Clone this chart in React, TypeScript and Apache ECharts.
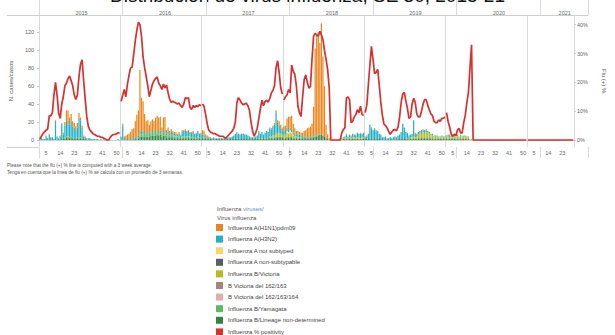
import React, { useEffect, useRef } from "react";
import * as echarts from "echarts";

const years = [2015, 2016, 2017, 2018, 2019, 2020, 2021];
const weeksInYear = [52, 52, 52, 52, 52, 52, 30];
const weekTicks = [5, 14, 23, 32, 41, 50];
const casesTicks = [0, 20, 40, 60, 80, 100, 120];
const pctTicks = [0, 10, 20, 30, 40];

// Influenza % positivity (3-week average), one row per year
const positivity = [
  [0.3,1.3,2.2,2.8,3.4,3.8,8.4,8.4,9.4,15.6,20,15.6,9.4,7.5,12.5,15,18.8,19.7,21.3,22.2,20.6,18.8,15.6,14.1,15.6,21.9,26.3,27.8,20.6,14.1,8.1,4.7,3.4,2.8,2.2,1.9,1.6,1.3,1.3,0.9,0.9,0.6,0.3,0,0,0.9,1.6,1.9,1.9,2.2,2.5,2.5],
  [13.4,15.6,17.5,15,19.4,22.5,25,25.3,29.7,34.4,38.1,40.9,40,35.9,28.8,25,21.9,18.8,15,17.2,19.4,20.6,21.3,21.9,19.7,18.8,17.5,19.4,18.1,19.1,16.3,14.1,13.1,13.4,13.1,12.8,12.5,12.8,11.9,11.3,12.5,14.7,14.4,14.7,11.3,10.6,11.9,11.3,11.9,11.6,12.2,11.9],
  [12.5,11.6,8.8,5.6,3.4,2.8,2.5,2.2,2.2,1.9,1.6,1.3,1.3,1.3,0.9,0.6,1.3,1.9,2.5,3.1,4.1,6.3,13.1,14.7,13.8,12.8,12.2,12.5,12.8,11.9,10.3,6.3,3.1,1.3,2.5,4.1,7.5,10.9,13.8,11.9,13.4,13.8,13.1,14.4,16.3,17.2,18.8,25,27.5,23.4,18.1,15.9],
  [13.8,15,15.6,17.5,16.3,26,23.8,22.8,18.8,11.7,9.4,8.2,15,21,22.6,20,18,18.6,28,36,37,36.5,36,37.7,36.5,34.8,31,28,24.4,18,0,0,0,0,0,0,0,2.4,3.6,4.2,14.6,14.9,14,6,6.5,8,8.8,10.5,9.4,11.7,8.8,8.5],
  [9.5,12,19,26,32.5,28,23,23.5,24.5,19,13,8.5,5.5,5,4.2,3,2,2.8,3.5,3.6,3.2,4.5,8,13,16,16.5,13.5,11,7.5,8,12.5,14.5,13,9,8,8,10,12.5,14,14,12,10.5,9,8.5,6.5,6,6,7,6.5,7.5,7.5,8],
  [9.5,6.5,4.5,2,1.3,2,1.5,3.5,4,2.5,2.5,6,8.6,13,16.5,25,33,0,0,0,0,0,0,0,0,0,0,0,0,0,0,0,0,0,0,0,0,0,0,0,0,0,0,0,0,0,0,0,0,0,0,0],
  [0,0,0,0,0,0,0,0,0,0,0,0,0,0,0,0,0,0,0,0,0,0,0,0,0,0,0,0,0,0],
];

// Number of cases per virus, one row per year (weeks not listed: no cases)
const h1n1 = [
  [0,0,0,0,1,0,1,0,0,0, 1,0,0,1,1,2,4,12,11,8, 9,6,5,4,5,5,3,2,1,1, 0,1,0,0,0,0,0,0,0,0, 0,0,0,0,0,0,0,0,0,0, 0,0],
  [1,2,3,4,5,6,8,10,12,18, 26,28,68,38,34,20,13,13,9,12, 13,12,15,16,15,15,7,15,15,4, 5,3,3,2,2,2,1,2,1,2, 1,1,1,1,1,1,1,0,1,0, 0,1],
  [5,4,3,2,1,1,0,1,0,0, 0,0,0,0,0,0,0,0,0,0, 0,0,1,0,0,0,0,0,0,0, 0,0,0,0,0,0,0,0,0,0, 0,0,0,1,1,1,2,2,3,5, 4,2],
  [5,6,10,14,12,15,10,6,4,3, 3,3,5,6,8,10,11,12,14,33, 97,112,114,102,124,88,56,15,5,2, 0,0,0,0,0,0,0,0,0,0, 1,0,0,1,0,0,1,0,0,1, 0,0],
  [1,1,0,0,1,0,0,0,0,0, 0,0,0,0,0,0,0,0,0,0, 0,0,0,0,0,0,0,0,0,0, 0,0,1,0,0,1,0,1,0,1, 0,0,0,0,0,0,0,0,0,0, 0,0],
  [0,0,1,0,0,1,0,0,0,1, 0,1,0,0,0,0,0],
  [],
];
const h3n2 = [
  [1,2,1,1,3,2,6,2,3,1, 20,4,2,4,17,5,13,17,18,14, 16,12,11,9,11,22,19,13,3,2, 2,1,1,1,1,1,1,1,0,1, 0,1,0,0,1,0,0,0,0,0, 1,0],
  [3,16,1,1,1,1,1,2,1,2, 2,2,3,3,2,2,1,2,1,1, 2,1,1,1,1,1,1,2,2,2, 3,2,3,3,2,3,2,3,2,5, 6,7,5,6,4,5,6,4,5,6, 4,5],
  [3,3,2,2,2,1,1,1,1,1, 1,1,1,1,1,1,1,2,2,3, 4,6,7,6,5,6,6,5,5,4, 3,2,2,2,3,4,8,6,7,5, 6,8,7,9,8,10,12,24,12,8, 6,5],
  [5,4,4,3,3,3,2,3,2,4, 3,2,1,2,1,1,1,1,1,1, 1,1,1,0,0,0,0,0,0,0, 0,0,0,0,0,0,0,1,1,2, 3,2,3,2,4,3,3,5,4,5, 4,5],
  [2,3,6,16,12,10,12,10,9,6, 5,3,3,3,2,2,2,2,3,3, 3,4,5,8,17,13,8,6,4,3, 4,18,4,3,3,2,3,2,3,2, 2,2,1,2,1,1,1,1,1,1, 1,1],
  [1,2,2,1,2,1,1,2,1,1, 1,1,1,1,1],
  [],
];
const aNotSubtyped = [[], [], [], [0,0,2,2,3,2,1], [], [], []];
const aNonSubtypable = [[], [], [], [], [], [], []];
const bVictoria = [
  [],
  [0,0,0,0,0,0,0,0,0,0, 0,0,0,0,0,0,0,0,0,0, 0,0,0,0,0,0,0,0,0,0, 0,0,0,0,1,0,0,0,0,1, 0,0,0,0,1,0,0,0,0,1, 0,0],
  [0,0,0,0,0,0,0,0,0,0, 0,0,0,0,0,0,0,0,0,0, 0,0,0,0,0,0,0,0,0,0, 0,0,0,0,0,0,0,0,0,0, 0,0,0,1,1,2,2,3,4,4, 3,3],
  [3,4,5,4,5,4,3,2,2,1, 1,1,0,0,0,0,0,0,0,0, 0,0,0,0,0,0,0,0,0,0, 0,0,0,0,0,0,0,1,1,1, 2,1,2,1,2,2,1,2,2,1, 2,2],
  [0,0,0,0,0,0,0,0,0,0, 0,0,0,0,0,0,0,0,0,0, 0,0,0,0,0,0,0,1,0,2, 2,3,2,3,4,5,6,7,6,7, 6,5,4,4,3,3,3,2,2,3, 2,2],
  [3,3,2,3,2,3,2,3,2,3, 2,2,3,2,2,1,1],
  [],
];
const bVicDel2 = [[], [], [], [], [], [], []];
const bVicDel3 = [[], [], [], [], [], [], []];
const bYamagata = [
  [0,0,0,0,0,0,0,0,0,0, 0,0,0,0,0,0,1,1,1,1, 1,1,1,0,1,1,1],
  [0,0,0,0,0,0,0,0,0,0, 0,1,3,2,3,3,3,3,3,3, 3,3,4,4,4,4,2,3,4,2, 3,2,3,2,2,2,2,2,1,1, 2,2,2,2,1,1,1,1,1,1, 1,1],
  [1,1,0,0,0,0,0,0,0,0, 0,0,0,0,0,0,0,0,0,0, 0,0,0,0,0,0,0,0,0,0, 0,0,0,0,0,0,1,0,1,0, 1,1,0,1,1,1,1,1,0,1, 1,0],
  [], [], [], [],
];
const bNotDetermined = [
  [0,0,0,0,1,0,0,1,0,0, 1,0,0,0,1,1,2,3,3,2, 3,2,2,2,2,2,2,1,1,1, 0,0,1],
  [0,0,0,0,0,0,0,0,0,1, 0,2,4,4,4,4,4,4,4,5, 5,5,5,6,5,6,4,5,5,3, 3,3,3,3,2,2,2,2,2,2, 2,2,2,2,2,2,2,2,1,2, 2,1],
  [2,2,1,1,1,1,1,1,1,1, 1,1,1,1,1,1,1,1,1,1, 1,1,1,1,1,1,1,1,1,1, 1,1,1,1,1,1,1,1,1,1, 1,1,2,2,2,2,2,3,3,3, 3,3],
  [2,2,3,3,3,3,2,2,2,2, 2,2,2,2,2,2,2,2,3,3, 4,4,5,6,6,5,4,2,1,0, 0,0,0,0,0,0,0,0,1,1, 1,1,1,1,1,1,1,1,1,1, 1,1],
  [1,1,1,1,1,1,1,1,1,1, 1,0,0,1,0,0,1,0,0,1, 0,1,1,1,1,1,1,1,1,1, 1,1,1,1,2,2,2,2,2,2, 2,2,2,1,1,1,1,1,1,1, 1,1],
  [1,1,1,1,2,1,1,1,1,1, 1,1,1,1,1],
  [],
];

const virusSeries = [
  { name: "Influenza A(H1N1)pdm09", color: "#ec8419", rows: h1n1 },
  { name: "Influenza A(H3N2)", color: "#1fb0c6", rows: h3n2 },
  { name: "Influenza A not subtyped", color: "#fdd56a", rows: aNotSubtyped },
  { name: "Influenza A non-subtypable", color: "#5a5f66", rows: aNonSubtypable },
  { name: "Influenza B/Victoria", color: "#b9b923", rows: bVictoria },
  { name: "B Victoria del 162/163", color: "#a5867f", rows: bVicDel2 },
  { name: "B Victoria del 162/163/164", color: "#dab2aa", rows: bVicDel3 },
  { name: "Influenza B/Yamagata", color: "#5cba60", rows: bYamagata },
  { name: "Influenza B/Lineage non-determined", color: "#2c8743", rows: bNotDetermined },
];
const positivityName = "Influenza % positivity";
const positivityColor = "#d8302e";

const FONT = "'Liberation Sans', Arial, sans-serif";

const categories: string[] = [];
const catYear: number[] = [];
const catWeek: number[] = [];
years.forEach((y, yi) => {
  for (let w = 1; w <= weeksInYear[yi]; w++) {
    categories.push(`${y}-${w}`);
    catYear.push(yi);
    catWeek.push(w);
  }
});

const flatten = (rows: number[][]) =>
  catYear.map((yi, i) => {
    const v = rows[yi] ? rows[yi][catWeek[i] - 1] : undefined;
    return v === undefined ? 0 : v;
  });

const yearSplit = {
  show: true,
  interval: (index: number) => catWeek[index] === 1,
  lineStyle: { color: "#dadada", width: 1 },
};

function buildOption() {
  const barSeries = virusSeries
    .slice()
    .reverse()
    .map((s) => ({
      type: "bar",
      name: s.name,
      stack: "viruses",
      xAxisIndex: 0,
      yAxisIndex: 0,
      barCategoryGap: "22%",
      itemStyle: { color: s.color },
      data: flatten(s.rows),
    }));

  const lineSeries = years.map((_, yi) => ({
    type: "line",
    name: positivityName,
    xAxisIndex: 0,
    yAxisIndex: 1,
    symbol: "none",
    connectNulls: false,
    lineStyle: { color: positivityColor, width: 1.7 },
    itemStyle: { color: positivityColor },
    z: 5,
    data: catYear.map((cy, i) => {
      if (cy !== yi) return null;
      const v = positivity[yi][catWeek[i] - 1];
      return v === undefined ? null : v;
    }),
  }));

  return {
    animation: false,
    backgroundColor: "#ffffff",
    textStyle: { fontFamily: FONT },
    grid: [
      { left: 39, right: 27, top: 15, height: 132 },
      { left: 39, right: 27, top: 0, height: 15 },
      { left: 39, right: 27, top: 147, height: 11 },
    ],
    xAxis: [
      {
        type: "category",
        gridIndex: 0,
        data: categories,
        boundaryGap: true,
        axisLine: { show: true, lineStyle: { color: "#d0d0d0", width: 1 } },
        axisTick: { show: false },
        axisLabel: {
          interval: (index: number) => weekTicks.indexOf(catWeek[index]) >= 0,
          formatter: (v: string) => v.split("-")[1],
          fontSize: 5.5,
          color: "#666",
          margin: 3,
          fontFamily: FONT,
        },
        splitLine: yearSplit,
      },
      {
        type: "category",
        gridIndex: 1,
        data: categories,
        boundaryGap: true,
        axisLine: { show: true, lineStyle: { color: "#d0d0d0", width: 1 } },
        axisTick: { show: false },
        axisLabel: {
          inside: true,
          interval: (index: number) =>
            catWeek[index] === Math.floor(weeksInYear[catYear[index]] / 2) + 1,
          formatter: (v: string) => v.split("-")[0],
          fontSize: 5.5,
          color: "#666",
          margin: -1,
          fontFamily: FONT,
        },
        splitLine: yearSplit,
      },
      {
        type: "category",
        gridIndex: 2,
        data: categories,
        boundaryGap: true,
        axisLine: { show: false },
        axisTick: { show: false },
        axisLabel: { show: false },
        splitLine: yearSplit,
      },
    ],
    yAxis: [
      {
        type: "value",
        gridIndex: 0,
        min: -7.8,
        max: 139.3,
        name: "N. cases/casos",
        nameLocation: "middle",
        nameGap: 24,
        nameTextStyle: { fontSize: 6, color: "#555", fontFamily: FONT },
        axisLine: { show: false },
        axisTick: { show: true, length: 2, customValues: casesTicks, lineStyle: { color: "#c8c8c8" } },
        axisLabel: { customValues: casesTicks, fontSize: 5.5, color: "#666", margin: 5, fontFamily: FONT },
        splitLine: { show: false },
      },
      {
        type: "value",
        gridIndex: 0,
        position: "right",
        min: -2.43,
        max: 43.36,
        name: "Flu (+) %",
        nameLocation: "middle",
        nameGap: 27,
        nameRotate: -90,
        nameTextStyle: { fontSize: 6, color: "#555", fontFamily: FONT },
        axisLine: { show: false },
        axisTick: { show: true, length: 2, customValues: pctTicks, lineStyle: { color: "#c8c8c8" } },
        axisLabel: {
          customValues: pctTicks,
          formatter: "{value}%",
          fontSize: 5.5,
          color: "#666",
          margin: 3,
          fontFamily: FONT,
        },
        splitLine: { show: false },
      },
      { type: "value", gridIndex: 1, show: false },
      { type: "value", gridIndex: 2, show: false },
    ],
    legend: {
      orient: "vertical",
      left: 216,
      top: 224,
      height: 140,
      padding: 0,
      itemWidth: 7,
      itemHeight: 7,
      itemGap: 4.6,
      icon: "rect",
      selectedMode: false,
      textStyle: { fontSize: 6, color: "#444", fontFamily: FONT },
      data: [...virusSeries.map((s) => s.name), positivityName],
    },
    graphic: [
      {
        type: "text",
        x: 307.5,
        y: -4.5,
        silent: true,
        style: {
          text: "Distribución de virus influenza, SE 30, 2015-21",
          align: "center",
          verticalAlign: "middle",
          fontSize: 19,
          fontFamily: FONT,
          fill: "#111",
        },
      },
      { type: "line", silent: true, shape: { x1: 7, y1: 15.5, x2: 39, y2: 15.5 }, style: { stroke: "#d0d0d0", lineWidth: 1 } },
      { type: "line", silent: true, shape: { x1: 7, y1: 147.5, x2: 39, y2: 147.5 }, style: { stroke: "#d0d0d0", lineWidth: 1 } },
      {
        type: "text",
        x: 7,
        y: 161.5,
        silent: true,
        style: {
          text:
            "Please note that the flu (+) % line is computed with a 3 week average.\nTenga en cuenta que la línea de flu (+) % se calcula con un promedio de 3 semanas.",
          fontSize: 4.7,
          lineHeight: 7.5,
          fontFamily: FONT,
          fill: "#555",
        },
      },
      {
        type: "text",
        x: 217,
        y: 204,
        silent: true,
        style: {
          text: "{a|Influenza }{b|viruses/}\n{a|Virus influenza}",
          fontFamily: FONT,
          rich: {
            a: { fontSize: 6, lineHeight: 9, fill: "#555", fontFamily: FONT },
            b: { fontSize: 6, lineHeight: 9, fill: "#6d8fc4", fontFamily: FONT },
          },
        },
      },
    ],
    series: [...barSeries, ...lineSeries],
  };
}

export default function App() {
  const ref = useRef<HTMLDivElement>(null);
  useEffect(() => {
    if (!ref.current) return;
    const chart = echarts.init(ref.current, null, { renderer: "svg" });
    chart.setOption(buildOption() as any);
    return () => chart.dispose();
  }, []);
  return (
    <div
      ref={ref}
      style={{ position: "fixed", left: 0, top: 0, width: 615, height: 335, background: "#ffffff" }}
    />
  );
}
